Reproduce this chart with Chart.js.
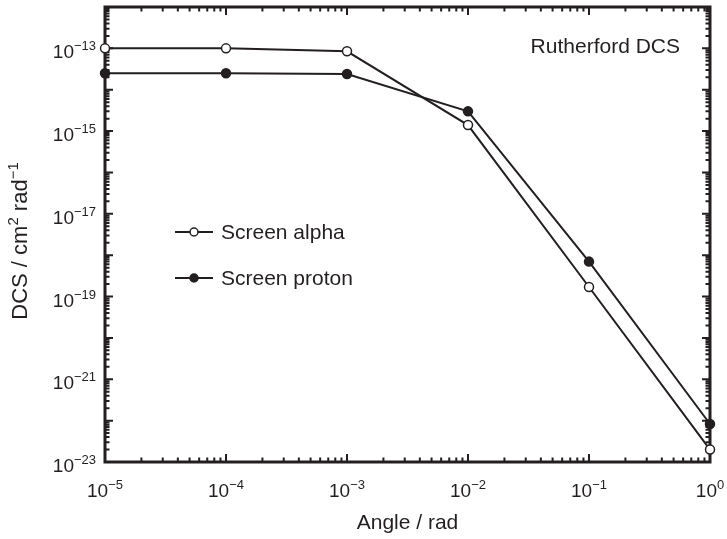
<!DOCTYPE html>
<html>
<head>
<meta charset="utf-8">
<script src="https://cdn.jsdelivr.net/npm/chart.js@4.4.1/dist/chart.umd.min.js"></script>
<style>
  html, body { margin: 0; padding: 0; background: #fff; }
  #wrap { width: 727px; height: 539px; }
</style>
</head>
<body>
<div id="wrap"><canvas id="chart" width="727" height="539"></canvas></div>
<script>
const angles = [1e-5, 1e-4, 1e-3, 1e-2, 1e-1, 1];
const alphaDcs = [1e-13, 1e-13, 8.5e-14, 1.4e-15, 1.7e-19, 2e-23];
const protonDcs = [2.5e-14, 2.5e-14, 2.4e-14, 3e-15, 7e-19, 8.3e-23];
const seriesNames = ['Screen alpha', 'Screen proton'];
const xDecades = [-5, -4, -3, -2, -1, 0];
const yDecades = [-23, -22, -21, -20, -19, -18, -17, -16, -15, -14, -13, -12];
const yLabelled = [-23, -21, -19, -17, -15, -13];

const ink = '#231f20';
const FONT = '"Liberation Sans", Arial, sans-serif';

// "10" with a raised exponent, y is the baseline of the "10"
function powerLabel(ctx, exp, x, y, align) {
  ctx.font = '19px ' + FONT;
  const bw = ctx.measureText('10').width;
  const es = exp < 0 ? '\u2212' + (-exp) : String(exp);
  ctx.font = '13px ' + FONT;
  const ew = ctx.measureText(es).width;
  const left = align === 'center' ? x - (bw + ew) / 2 : x - bw - ew;
  ctx.textAlign = 'left';
  ctx.textBaseline = 'alphabetic';
  ctx.font = '19px ' + FONT;
  ctx.fillText('10', left, y);
  ctx.font = '13px ' + FONT;
  ctx.fillText(es, left + bw, y - 8);
}

// runs of [text, isSuperscript]
function richText(ctx, parts, x, y, size, supSize) {
  let w = 0;
  parts.forEach(([t, sup]) => {
    ctx.font = (sup ? supSize : size) + 'px ' + FONT;
    w += ctx.measureText(t).width;
  });
  let cx = x - w / 2;
  ctx.textAlign = 'left';
  ctx.textBaseline = 'alphabetic';
  parts.forEach(([t, sup]) => {
    ctx.font = (sup ? supSize : size) + 'px ' + FONT;
    ctx.fillText(t, cx, sup ? y - 9 : y);
    cx += ctx.measureText(t).width;
  });
}

const frame = {
  id: 'frame',
  beforeDatasetsDraw(chart) {
    const { ctx, chartArea: a, scales: { x, y } } = chart;
    ctx.save();
    ctx.strokeStyle = ink;
    ctx.lineCap = 'butt';

    const xTick = (px, len) => {
      ctx.beginPath();
      ctx.moveTo(px, a.bottom); ctx.lineTo(px, a.bottom - len);
      ctx.moveTo(px, a.top); ctx.lineTo(px, a.top + len);
      ctx.stroke();
    };
    const yTick = (py, len) => {
      ctx.beginPath();
      ctx.moveTo(a.left, py); ctx.lineTo(a.left + len, py);
      ctx.moveTo(a.right, py); ctx.lineTo(a.right - len, py);
      ctx.stroke();
    };

    ctx.lineWidth = 2;
    xDecades.forEach((d, i) => {
      xTick(x.getPixelForValue(Math.pow(10, d)), 8);
      if (i < xDecades.length - 1) {
        for (let m = 2; m < 10; m++) xTick(x.getPixelForValue(m * Math.pow(10, d)), 4.5);
      }
    });
    yDecades.forEach((d, i) => {
      yTick(y.getPixelForValue(Math.pow(10, d)), 8);
      if (i < yDecades.length - 1) {
        for (let m = 2; m < 10; m++) yTick(y.getPixelForValue(m * Math.pow(10, d)), 4.5);
      }
    });

    ctx.lineWidth = 3;
    ctx.strokeRect(a.left, a.top, a.right - a.left, a.bottom - a.top);
    ctx.restore();
  },
  afterDatasetsDraw(chart) {
    const { ctx, chartArea: a, scales: { x, y } } = chart;
    ctx.save();
    ctx.fillStyle = ink;
    ctx.strokeStyle = ink;

    xDecades.forEach(d => powerLabel(ctx, d, x.getPixelForValue(Math.pow(10, d)), a.bottom + 35, 'center'));
    yLabelled.forEach(d => powerLabel(ctx, d, 96, y.getPixelForValue(Math.pow(10, d)) + 10, 'right'));

    // axis titles
    ctx.font = '21px ' + FONT;
    ctx.textAlign = 'center';
    ctx.fillText('Angle / rad', (a.left + a.right) / 2, 529);
    ctx.save();
    ctx.translate(27, 241);
    ctx.rotate(-Math.PI / 2);
    richText(ctx, [['DCS / cm', false], ['2', true], [' rad', false], ['\u22121', true]], 0, 0, 22, 15);
    ctx.restore();

    // annotation
    ctx.font = '21px ' + FONT;
    ctx.textAlign = 'right';
    ctx.fillText('Rutherford DCS', 680, 53);

    // legend
    chart.data.datasets.forEach((ds, i) => {
      const ly = 232 + i * 46;
      ctx.lineWidth = 2;
      ctx.beginPath();
      ctx.moveTo(175, ly); ctx.lineTo(213, ly);
      ctx.stroke();
      ctx.beginPath();
      ctx.arc(194, ly, 4, 0, Math.PI * 2);
      ctx.fillStyle = ds.pointBackgroundColor;
      ctx.fill();
      ctx.lineWidth = 1.5;
      ctx.stroke();
      ctx.fillStyle = ink;
      ctx.font = '21px ' + FONT;
      ctx.textAlign = 'left';
      ctx.textBaseline = 'alphabetic';
      ctx.fillText(ds.label, 221, ly + 7);
    });
    ctx.restore();
  }
};

new Chart(document.getElementById('chart'), {
  type: 'line',
  data: {
    datasets: [
      {
        label: seriesNames[0],
        data: angles.map((a, i) => ({ x: a, y: alphaDcs[i] })),
        borderColor: ink,
        borderWidth: 2,
        pointRadius: 4.5,
        pointBorderWidth: 1.5,
        pointBorderColor: ink,
        pointBackgroundColor: '#ffffff',
        tension: 0,
        clip: false,
      },
      {
        label: seriesNames[1],
        data: angles.map((a, i) => ({ x: a, y: protonDcs[i] })),
        borderColor: ink,
        borderWidth: 2,
        pointRadius: 4.5,
        pointBorderWidth: 1.5,
        pointBorderColor: ink,
        pointBackgroundColor: ink,
        tension: 0,
        clip: false,
      },
    ],
  },
  options: {
    responsive: false,
    animation: false,
    layout: { padding: { top: 7, right: 17, left: 0, bottom: 0 } },
    plugins: {
      legend: { display: false },
      tooltip: { enabled: false },
    },
    scales: {
      x: {
        type: 'logarithmic',
        min: 1e-5,
        max: 1,
        grid: { display: false },
        border: { display: false },
        ticks: { display: false },
        afterFit: (scale) => { scale.height = 77; },
      },
      y: {
        type: 'logarithmic',
        min: 1e-23,
        max: 1e-12,
        grid: { display: false },
        border: { display: false },
        ticks: { display: false },
        afterFit: (scale) => { scale.width = 105; },
      },
    },
  },
  plugins: [frame],
});
</script>
</body>
</html>
